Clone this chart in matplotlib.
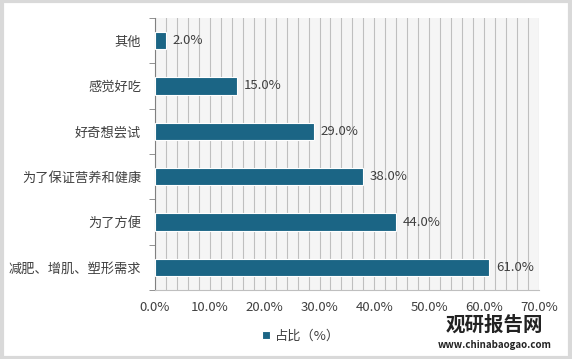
import matplotlib.pyplot as plt
import numpy as np
from matplotlib.patches import Rectangle

plt.rcParams['font.family'] = ['Noto Sans CJK SC', 'DejaVu Sans']

categories = ["其他", "感觉好吃", "好奇想尝试", "为了保证营养和健康", "为了方便", "减肥、增肌、塑形需求"]
values = [2.0, 15.0, 29.0, 38.0, 44.0, 61.0]
legend_label = "占比（%）"
bar_color = "#1B6585"

fig = plt.figure(figsize=(5.72, 3.59), dpi=100)
fig.patch.set_facecolor("white")
fig.patches.append(Rectangle((0.003, 0.004), 0.994, 0.992, transform=fig.transFigure,
                             fill=False, edgecolor="#D9D9D9", linewidth=3))

ax = fig.add_axes([0.271, 0.192, 0.671, 0.758])
ax.set_facecolor("#F5F5F5")

fs = 9.5
y = np.arange(len(categories))
bars = ax.barh(y, values, height=0.38, color=bar_color, edgecolor="white",
               linewidth=0.8, label=legend_label, zorder=3)
for yi, v in zip(y, values):
    ax.text(v + 1.2, yi, f"{v:.1f}%", va="center", ha="left", fontsize=fs, color="#404040")

ax.set_xlim(0, 70)
ax.set_ylim(len(categories) - 0.5, -0.5)
ax.set_xticks(np.arange(0, 71, 10))
ax.set_xticklabels([f"{t:.1f}%" for t in np.arange(0, 71, 10)], fontsize=fs, color="#404040")
ax.set_xticks(np.arange(0, 71, 2), minor=True)
ax.grid(axis="x", which="both", color="#BFBFBF", linewidth=0.8, zorder=0)
ax.tick_params(axis="x", which="both", length=0, pad=8)

ax.set_yticks(y)
ax.set_yticklabels(categories, fontsize=fs, color="#404040")
ax.set_yticks(np.arange(-0.5, len(categories), 1), minor=True)
ax.tick_params(axis="y", which="major", length=0, pad=10)
ax.tick_params(axis="y", which="minor", length=4, color="#808080", direction="out")

for s in ["top", "right"]:
    ax.spines[s].set_visible(False)
ax.spines["bottom"].set_color("#BFBFBF")
ax.spines["left"].set_color("#808080")

ax.legend(loc="center", bbox_to_anchor=(0.38, -0.17), frameon=False, fontsize=fs,
          handlelength=0.6, handleheight=0.6, handletextpad=0.4, labelcolor="#404040")

fig.text(0.865, 0.095, "观研报告网", fontsize=14, fontweight="bold", color="#222222",
         ha="center", va="center")
fig.text(0.865, 0.04, "www.chinabaogao.com", fontsize=7, fontweight="bold", color="#222222",
         ha="center", va="center")

fig.savefig("out.png", dpi=100)
